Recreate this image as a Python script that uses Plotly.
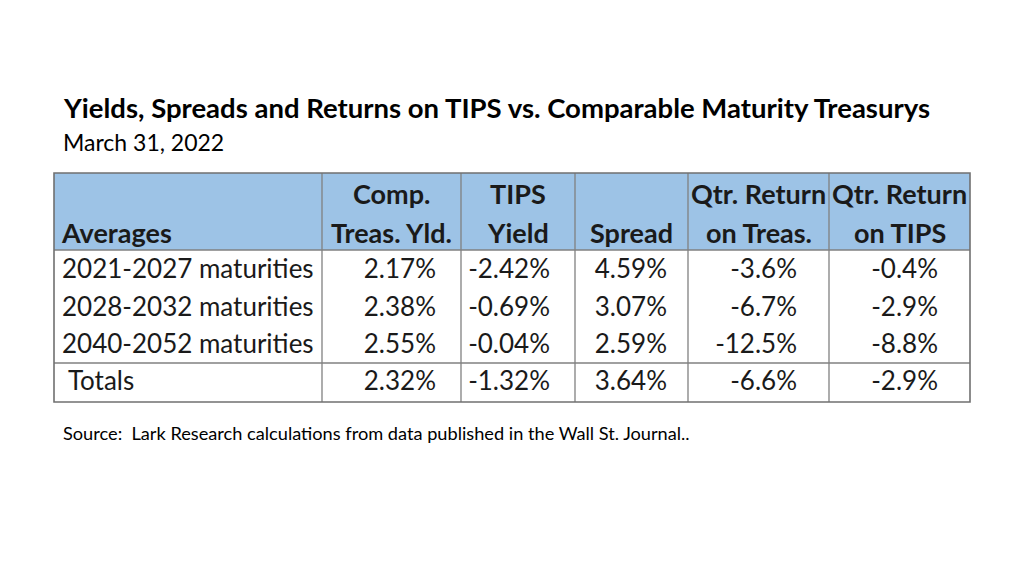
import plotly.graph_objects as go

# ---- data ----
title = "Yields, Spreads and Returns on TIPS vs. Comparable Maturity Treasurys"
subtitle = "March 31, 2022"
source = "Source:  Lark Research calculations from data published in the Wall St. Journal.."

header_line1 = ["", "Comp.", "TIPS", "", "Qtr. Return", "Qtr. Return"]
header_line2 = ["Averages", "Treas. Yld.", "Yield", "Spread", "on Treas.", "on TIPS"]

row_labels = ["2021-2027 maturities", "2028-2032 maturities", "2040-2052 maturities", " Totals"]
comp_treas_yld = [2.17, 2.38, 2.55, 2.32]
tips_yield = [-2.42, -0.69, -0.04, -1.32]
spread = [4.59, 3.07, 2.59, 3.64]
qtr_return_treas = [-3.6, -6.7, -12.5, -6.6]
qtr_return_tips = [-0.4, -2.9, -8.8, -2.9]

# ---- layout geometry (page pixels) ----
W, H = 1024, 576
OFF = 8  # page body margin
col_edges = [54, 322, 461, 575, 688, 829, 970]
top, head_bot, tot_top, bottom = 173, 250, 363, 402
row_y = [271, 309, 346, 383]
head_y1, head_y2 = 193, 232
right_pad = [0, 25, 25, 21, 32, 32]

FONT = "Lato"
BODY = 26
HEAD = 27
TXT = "#1a1a1a"
HEAD_FILL = "#9DC3E6"
LINE = "#808080"

fig = go.Figure()

# header fill
fig.add_shape(type="rect", x0=col_edges[0], x1=col_edges[-1], y0=top, y1=head_bot,
              fillcolor=HEAD_FILL, line=dict(width=0), layer="below")
# grid lines
for xe in col_edges[1:-1]:
    fig.add_shape(type="line", x0=xe, x1=xe, y0=top, y1=bottom, line=dict(color=LINE, width=1.3))
for ye in [head_bot, tot_top]:
    fig.add_shape(type="line", x0=col_edges[0], x1=col_edges[-1], y0=ye, y1=ye,
                  line=dict(color=LINE, width=1.3))
fig.add_shape(type="rect", x0=col_edges[0], x1=col_edges[-1], y0=top, y1=bottom,
              line=dict(color="#707070", width=1.6))

# header text
for i in range(6):
    cx = (col_edges[i] + col_edges[i + 1]) / 2
    for txt, yy in [(header_line1[i], head_y1), (header_line2[i], head_y2)]:
        if not txt:
            continue
        if i == 0:
            fig.add_annotation(x=59, y=yy, text="<b>%s</b>" % txt, showarrow=False,
                               xanchor="left", yanchor="middle",
                               font=dict(family=FONT, size=HEAD, color=TXT))
        else:
            fig.add_annotation(x=cx, y=yy, text="<b>%s</b>" % txt, showarrow=False,
                               xanchor="center", yanchor="middle",
                               font=dict(family=FONT, size=HEAD, color=TXT))

# body text
fig.add_trace(go.Scatter(x=[62] * len(row_labels), y=row_y, mode="text",
                         text=[s.replace(" ", "\u00a0", 1) if s.startswith(" ") else s for s in row_labels],
                         textposition="middle right",
                         textfont=dict(family=FONT, size=BODY, color=TXT),
                         hoverinfo="skip", showlegend=False))
cols = [
    ([f"{v:.2f}%" for v in comp_treas_yld], 1),
    ([f"{v:.2f}%" for v in tips_yield], 2),
    ([f"{v:.2f}%" for v in spread], 3),
    ([f"{v:.1f}%" for v in qtr_return_treas], 4),
    ([f"{v:.1f}%" for v in qtr_return_tips], 5),
]
for texts, ci in cols:
    xr = col_edges[ci + 1] - right_pad[ci]
    fig.add_trace(go.Scatter(x=[xr] * len(texts), y=row_y, mode="text", text=texts,
                             textposition="middle left",
                             textfont=dict(family=FONT, size=BODY, color=TXT),
                             hoverinfo="skip", showlegend=False))

# titles
fig.add_annotation(x=61, y=107, text="<b>%s</b>" % title, showarrow=False,
                   xanchor="left", yanchor="middle",
                   font=dict(family=FONT, size=27.5, color="#000000"))
fig.add_annotation(x=61, y=142, text=subtitle, showarrow=False,
                   xanchor="left", yanchor="middle",
                   font=dict(family=FONT, size=23, color="#000000"))
fig.add_annotation(x=61, y=433, text=source, showarrow=False,
                   xanchor="left", yanchor="middle",
                   font=dict(family=FONT, size=18.2, color="#000000"))

fig.update_layout(
    width=W - OFF, height=H - OFF, margin=dict(l=0, r=0, t=0, b=0),
    paper_bgcolor="white", plot_bgcolor="white",
    xaxis=dict(range=[OFF, W], visible=False, fixedrange=True),
    yaxis=dict(range=[H, OFF], visible=False, fixedrange=True),
)
fig.write_html("out.html")
